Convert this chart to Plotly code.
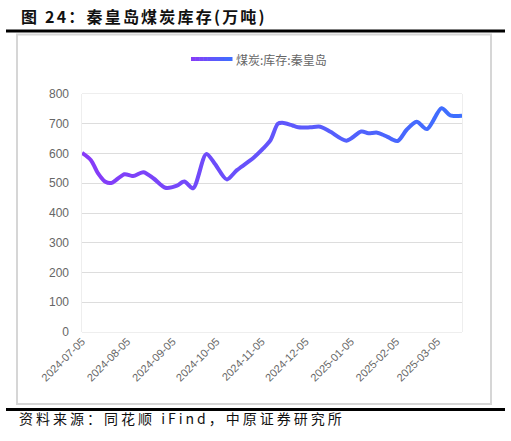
import plotly.graph_objects as go
import pandas as pd

# ---------------- data ----------------
dates = ['2024-07-05', '2024-07-11', '2024-07-16', '2024-07-21', '2024-07-25',
         '2024-08-03', '2024-08-09', '2024-08-16', '2024-08-23', '2024-08-31',
         '2024-09-08', '2024-09-13', '2024-09-19', '2024-09-28', '2024-10-04',
         '2024-10-12', '2024-10-19', '2024-10-30', '2024-11-06', '2024-11-11',
         '2024-11-16', '2024-11-19', '2024-11-25', '2024-11-30', '2024-12-08',
         '2024-12-15', '2024-12-22', '2025-01-02', '2025-01-12', '2025-01-17',
         '2025-01-23', '2025-01-30', '2025-02-06', '2025-02-12', '2025-02-19',
         '2025-02-26', '2025-03-08', '2025-03-14', '2025-03-22']
stock = [602, 578, 533, 505, 501,
         530, 524, 537, 516, 485,
         492, 506, 483, 598, 565,
         513, 544, 584, 617, 645,
         700, 703, 696, 688, 688,
         690, 673, 643, 674, 668,
         670, 656, 642, 679, 707,
         682, 752, 728, 727]
tick_dates = ['2024-07-05', '2024-08-05', '2024-09-05', '2024-10-05', '2024-11-05',
              '2024-12-05', '2025-01-05', '2025-02-05', '2025-03-05']
y_ticks = [0, 100, 200, 300, 400, 500, 600, 700, 800]

title_text = '图 24：秦皇岛煤炭库存(万吨)'
series_name = '煤炭:库存:秦皇岛'
source_text = '资料来源：同花顺 iFind，中原证券研究所'

# ---------------- layout geometry ----------------
W, H = 511, 441
L, R, T, B = 82, 462, 94, 332


def fx(px):
    return (px - L) / (R - L)


def fy(py):
    return (B - py) / (B - T)


C0 = (136, 58, 248)
C1 = (60, 112, 255)


def grad(f):
    r = [round(C0[i] + (C1[i] - C0[i]) * f) for i in range(3)]
    return 'rgb(%d,%d,%d)' % tuple(r)


fig = go.Figure()

# glow / shadow under the line
fig.add_trace(go.Scatter(x=dates, y=stock, mode='lines', xaxis='x', yaxis='y2',
                         line=dict(color='rgba(150,100,255,0.10)', width=13, shape='spline',
                                   smoothing=0.8, simplify=False),
                         hoverinfo='skip', showlegend=False))
fig.add_trace(go.Scatter(x=dates, y=stock, mode='lines', xaxis='x', yaxis='y2',
                         line=dict(color='rgba(150,100,255,0.14)', width=7, shape='spline',
                                   smoothing=0.8, simplify=False),
                         hoverinfo='skip', showlegend=False))

# gradient line: same curve drawn in narrow x-slices, each clipped to its own slice
t0 = pd.Timestamp(dates[0])
t1 = pd.Timestamp(dates[-1])
N = 38
for k in range(N):
    a = t0 + (t1 - t0) * k / N
    b = t0 + (t1 - t0) * (k + 1) / N
    name = 'xaxis%d' % (k + 2)
    fig.update_layout({name: dict(domain=[k / N, (k + 1) / N], anchor='y', type='date',
                                  range=[a.strftime('%Y-%m-%d %H:%M:%S'), b.strftime('%Y-%m-%d %H:%M:%S')],
                                  visible=False, showgrid=False, fixedrange=True, automargin=False)})
    fig.add_trace(go.Scatter(x=dates, y=stock, mode='lines', xaxis='x%d' % (k + 2), yaxis='y',
                             line=dict(color=grad((k + 0.5) / N), width=4, shape='spline',
                                       smoothing=0.8, simplify=False),
                             name=series_name, hoverinfo='skip', showlegend=False))

shapes = []
# outer frame and rules
shapes.append(dict(type='rect', xref='paper', yref='paper', x0=fx(17), x1=fx(491),
                   y0=fy(404), y1=fy(34.5), line=dict(color='#d6d6d6', width=2), layer='below'))
shapes.append(dict(type='line', xref='paper', yref='paper', x0=fx(6), x1=fx(505),
                   y0=fy(31), y1=fy(31), line=dict(color='#000000', width=3)))
shapes.append(dict(type='line', xref='paper', yref='paper', x0=fx(6), x1=fx(505),
                   y0=fy(409.5), y1=fy(409.5), line=dict(color='#000000', width=3)))
# plot area border
shapes.append(dict(type='rect', xref='paper', yref='paper', x0=0, x1=1, y0=0, y1=1,
                   line=dict(color='#dddddd', width=1), layer='below'))
# legend symbol (gradient)
nseg = 10
lx0, lx1, ly = 191, 232, 59
for i in range(nseg):
    shapes.append(dict(type='line', xref='paper', yref='paper',
                       x0=fx(lx0 + (lx1 - lx0) * i / nseg), x1=fx(lx0 + (lx1 - lx0) * (i + 1) / nseg + 0.5),
                       y0=fy(ly), y1=fy(ly), line=dict(color=grad((i + 0.5) / nseg), width=4)))

annotations = [
    dict(text='<span style="letter-spacing:2.2px">' + title_text + '</span>',
         xref='paper', yref='paper', x=fx(19), y=fy(16), xanchor='left',
         yanchor='middle', showarrow=False,
         font=dict(family='Noto Sans CJK SC', size=16, color='#111111', weight='bold')),
    dict(text='<span style="letter-spacing:3px">' + source_text + '</span>',
         xref='paper', yref='paper', x=fx(17), y=fy(418), xanchor='left',
         yanchor='middle', showarrow=False,
         font=dict(family='Noto Sans CJK SC', size=14, color='#111111')),
    dict(text=series_name, xref='paper', yref='paper', x=fx(234), y=fy(59), xanchor='left',
         yanchor='middle', showarrow=False,
         font=dict(family='Noto Sans CJK SC', size=12, color='#666666')),
]

fig.update_layout(
    width=W, height=H,
    margin=dict(l=L, r=W - R, t=T, b=H - B, pad=0, autoexpand=False),
    paper_bgcolor='white', plot_bgcolor='white',
    showlegend=False,
    shapes=shapes,
    annotations=annotations,
    xaxis=dict(type='date', domain=[0, 1], anchor='y', range=[dates[0], dates[-1]],
               tickvals=tick_dates, ticktext=tick_dates, tickangle=-45,
               showgrid=True, gridcolor='#d2d2d2', gridwidth=1.2, griddash='5px,6px',
               showline=False, zeroline=False, ticks='', automargin=False,
               tickfont=dict(family='Liberation Sans, Arial', size=11, color='#666666'),
               fixedrange=True),
    yaxis=dict(range=[0, 800], tickvals=y_ticks, showgrid=True, gridcolor='#dddddd',
               gridwidth=1, zeroline=False, showline=False, ticks='', automargin=False,
               ticklabelstandoff=12,
               tickfont=dict(family='Liberation Sans, Arial', size=12, color='#666666'),
               fixedrange=True),
    yaxis2=dict(overlaying='y', range=[14, 814], visible=False, showgrid=False, fixedrange=True),
)

fig.write_html('out.html', config={'displayModeBar': False},
               post_script="document.body.style.margin='0px';")
